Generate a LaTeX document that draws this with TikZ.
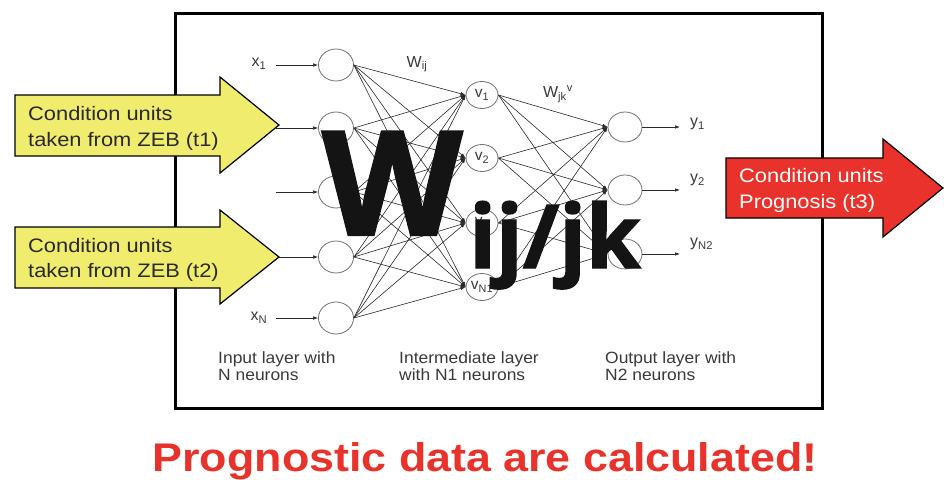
\documentclass[tikz,border=0pt]{standalone}
\usepackage{fontspec}
\setmainfont{Liberation Sans}
\newfontfamily\bigfont[BoldFeatures={FakeBold=1.6}]{Open Sans}
\usetikzlibrary{arrows.meta,shapes.geometric}
\definecolor{yel}{HTML}{F0EC6E}
\definecolor{redA}{HTML}{E9322B}
\definecolor{ink}{HTML}{2A2A2A}
\definecolor{lbl}{HTML}{3A3A3A}
\definecolor{nodegray}{HTML}{707070}
\newcommand{\hs}[2][1.12]{\scalebox{#1}[1]{#2}}
\begin{document}
\begin{tikzpicture}[x=1pt,y=-1pt,
  inneuron/.style={ellipse, draw=nodegray, line width=0.8pt, minimum width=35pt, minimum height=32pt, inner sep=0pt, fill=white},
  hidneuron/.style={ellipse, draw=nodegray, line width=0.8pt, minimum width=32pt, minimum height=27pt, inner sep=0pt, fill=white, text=lbl, font=\fontsize{15.5}{15.5}\selectfont},
  outneuron/.style={ellipse, draw=nodegray, line width=0.8pt, minimum width=34pt, minimum height=30pt, inner sep=0pt, fill=white},
  conn/.style={draw=ink, line width=0.6pt, -{Latex[length=5pt,width=3.5pt]}},
  netlabel/.style={text=lbl, inner sep=0pt, font=\fontsize{16}{16}\selectfont},
  boxarrow/.style={draw=black, line width=1.2pt},
  arrowtext/.style={anchor=base west, inner sep=0pt, font=\fontsize{19.5}{19.5}\selectfont},
  layertext/.style={anchor=base west, inner sep=0pt, text=lbl, font=\fontsize{16.3}{16.3}\selectfont}
]
\useasboundingbox (0,0) rectangle (949,479);
\fill[white] (0,0) rectangle (949,479);

% frame
\draw[line width=3pt, black] (175,13) rectangle (822,408);

% input neurons
\node[inneuron] (i1) at (336,65) {};
\node[inneuron] (i2) at (336,128) {};
\node[inneuron] (i3) at (336,192) {};
\node[inneuron] (i4) at (336,257) {};
\node[inneuron] (i5) at (336,318) {};
% hidden neurons
\node[hidneuron] (h1) at (482,95) {v\textsubscript{1}};
\node[hidneuron] (h2) at (482,158) {v\textsubscript{2}};
\node[hidneuron] (h3) at (482,223) {v\textsubscript{3}};
\node[hidneuron] (h4) at (482,287) {v\textsubscript{N1}};
% output neurons
\node[outneuron] (o1) at (625,127) {};
\node[outneuron] (o2) at (625,190) {};
\node[outneuron] (o3) at (625,254) {};

% input arrows
\foreach \i/\yy in {1/65,2/128,3/192,4/257,5/318}{
  \coordinate (a\i) at (276,\yy);
  \draw[conn] (a\i) -- (i\i.west);
}
\node[netlabel] (x1) at (259,64) {x\textsubscript{1}};
\node[netlabel] (xN) at (259,318) {x\textsubscript{N}};

% connections
\foreach \i in {1,...,5}{
  \foreach \j in {1,...,4}{
    \draw[conn] (i\i.east) -- (h\j.west);
  }
}
\foreach \j in {1,...,4}{
  \foreach \k in {1,...,3}{
    \draw[conn] (h\j.east) -- (o\k.west);
  }
}
% output arrows
\foreach \k/\yy in {1/127,2/190,3/254}{
  \coordinate (b\k) at (680,\yy);
  \draw[conn] (o\k.east) -- (b\k);
}
\node[netlabel, anchor=west] (y1) at (690,124) {y\textsubscript{1}};
\node[netlabel, anchor=west] (y2) at (690,180) {y\textsubscript{2}};
\node[netlabel, anchor=west] (y3) at (690,244) {y\textsubscript{N2}};

\node[netlabel] (wij) at (417,64) {W\textsubscript{ij}};
\node[netlabel] (wjk) at (558,94) {W\textsubscript{jk}\textsuperscript{v}};

% layer texts
\node[layertext] (l1a) at (218,363) {\hs[1.07]{Input layer with}};
\node[layertext] (l1b) at (218,380) {\hs[1.07]{N neurons}};
\node[layertext] (l2a) at (399,363) {\hs[1.07]{Intermediate layer}};
\node[layertext] (l2b) at (399,380) {\hs[1.07]{with N1 neurons}};
\node[layertext] (l3a) at (605,363) {\hs[1.07]{Output layer with}};
\node[layertext] (l3b) at (605,380) {\hs[1.07]{N2 neurons}};

% big W
\node[anchor=base west, inner sep=0pt, text=black!92, font=\bigfont\bfseries\fontsize{145}{145}\selectfont] (bigW) at (322,235) {W};
\node[anchor=base west, inner sep=0pt, text=black!92, font=\bigfont\bfseries\fontsize{88}{88}\selectfont] (bigsub) at (469,268) {ij/jk};

% yellow arrows
\draw[boxarrow, fill=yel] (15,95) -- (220,95) -- (220,77) -- (279,125) -- (220,173) -- (220,156) -- (15,156) -- cycle;
\node[arrowtext, text=ink] (t1a) at (28,120) {\hs{Condition units}};
\node[arrowtext, text=ink] (t1b) at (28,146) {\hs{taken from ZEB (t1)}};
\draw[boxarrow, fill=yel] (15,227) -- (220,227) -- (220,210) -- (279,257) -- (220,304) -- (220,288) -- (15,288) -- cycle;
\node[arrowtext, text=ink] (t2a) at (28,252) {\hs{Condition units}};
\node[arrowtext, text=ink] (t2b) at (28,277) {\hs{taken from ZEB (t2)}};

% red arrow
\draw[boxarrow, fill=redA] (726,158) -- (883,158) -- (883,139) -- (943,188) -- (883,237) -- (883,218) -- (726,218) -- cycle;
\node[arrowtext, text=white] (t3a) at (739,182) {\hs{Condition units}};
\node[arrowtext, text=white] (t3b) at (739,208) {\hs{Prognosis (t3)}};

% title
\node[anchor=base, inner sep=0pt, text=redA, font=\bfseries\fontsize{40}{40}\selectfont] (title) at (485,471) {\hs{Prognostic data are calculated!}};
\end{tikzpicture}
\end{document}
